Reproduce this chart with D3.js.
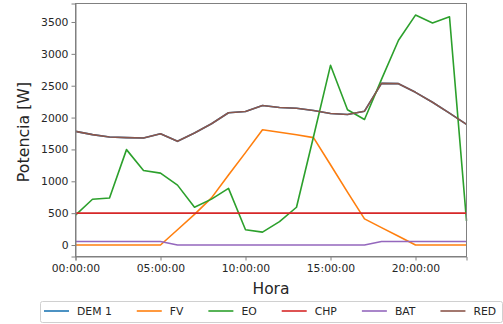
<!DOCTYPE html>
<html lang="en">
<head>
  <meta charset="UTF-8">
  <title>potencia</title>
  <script src="https://cdn.jsdelivr.net/npm/d3@7"></script>
</head>
<body>
<style>
  * {
    padding: 0;
    margin: 0;
  }

  body {
    background: #fff;
  }

  #app {
    width: 503px;
    height: 324px;
  }

  #chart text {
    font-family: "DejaVu Sans", sans-serif;
    fill: #262626;
  }

  .axis path, .axis line {
    stroke: #808080;
    stroke-width: 1;
  }
</style>

<div id="app"></div>

<script>
  // horas 0..23
  const hours = d3.range(0, 24)

  const dem1 = [1783, 1732, 1694, 1685, 1679, 1747, 1627, 1757, 1903, 2075, 2095, 2189,
    2158, 2147, 2111, 2064, 2048, 2100, 2537, 2532, 2396, 2240, 2069, 1892]
  const fv = [0, 0, 0, 0, 0, 0, 240, 480, 740, 1100, 1450, 1810,
    1770, 1730, 1685, 1260, 830, 410, 273, 137, 0, 0, 0, 0]
  const eo = [470, 718, 738, 1497, 1170, 1128, 940, 593, 720, 889, 239, 203,
    368, 593, 1700, 2820, 2122, 1970, 2600, 3214, 3608, 3484, 3582, 380]
  const chp = [500, 500, 500, 500, 500, 500, 500, 500, 500, 500, 500, 500,
    500, 500, 500, 500, 500, 500, 500, 500, 500, 500, 500, 500]
  const bat = [55, 55, 55, 55, 55, 55, 0, 0, 0, 0, 0, 0,
    0, 0, 0, 0, 0, 0, 55, 55, 55, 55, 55, 55]
  const red = [1783, 1732, 1694, 1685, 1679, 1747, 1627, 1757, 1903, 2075, 2095, 2189,
    2158, 2147, 2111, 2064, 2048, 2100, 2537, 2532, 2396, 2240, 2069, 1892]

  const seriesNames = ["DEM 1", "FV", "EO", "CHP", "BAT", "RED"]
  const seriesValues = [dem1, fv, eo, chp, bat, red]
  const colors = ["#1f77b4", "#ff7f0e", "#2ca02c", "#d62728", "#9467bd", "#8c564b"]

  const yTicks = [0, 500, 1000, 1500, 2000, 2500, 3000, 3500]

  let $width = 503, $height = 324
  const m = {left: 75.5, right: 466.5, top: 3.5, bottom: 256.5}

  const svg = d3.select("#app").append("svg").attr("id", "chart")
    .attr("width", $width).attr("height", $height)

  const day = Date.UTC(2020, 0, 1)
  const toDate = h => new Date(day + h * 3600000)

  const scaleX = d3.scaleUtc().domain([toDate(0), toDate(23)]).range([m.left, m.right])
  const scaleY = d3.scaleLinear().domain([-180, 3790]).range([m.bottom, m.top])

  /**
   * lineas
   */
  const line = d3.line()
    .x((d, i) => scaleX(toDate(hours[i])))
    .y(d => scaleY(d))

  svg.append("g").selectAll("path").data(seriesValues).enter().append("path")
    .attr("d", d => line(d))
    .attr("fill", "none")
    .attr("stroke", (d, i) => colors[i])
    .attr("stroke-width", 1.6)
    .attr("stroke-linejoin", "round")

  /**
   * ejes
   */
  const axisX = d3.axisBottom(scaleX)
    .tickValues([0, 5, 10, 15, 20].map(toDate))
    .tickFormat(d3.utcFormat("%H:%M:%S"))
    .tickSizeOuter(0).tickSize(4).tickPadding(4)

  const axisY = d3.axisLeft(scaleY).tickValues(yTicks).tickFormat(d3.format("d"))
    .tickSizeOuter(0).tickSize(4).tickPadding(3)

  svg.append("g").classed("axis", true).attr("transform", "translate(0," + m.bottom + ")")
    .call(axisX)
  svg.append("g").classed("axis", true).attr("transform", "translate(" + m.left + ",0)")
    .call(axisY)

  svg.selectAll(".axis text").attr("font-size", 10.8).style("font-family", "DejaVu Sans")

  // marco
  svg.append("rect").attr("x", m.left).attr("y", m.top)
    .attr("width", m.right - m.left).attr("height", m.bottom - m.top)
    .attr("fill", "none").attr("stroke", "#808080").attr("stroke-width", 1)

  // etiquetas
  svg.append("text").text("Hora")
    .attr("x", (m.left + m.right) / 2).attr("y", 294)
    .attr("text-anchor", "middle").attr("font-size", 15.5)

  svg.append("text").text("Potencia [W]")
    .attr("transform", "translate(29,132) rotate(-90)")
    .attr("text-anchor", "middle").attr("font-size", 15.8)

  /**
   * leyenda
   */
  const legend = svg.append("g")
  legend.append("rect").attr("x", 40.5).attr("y", 301.5).attr("width", 462).attr("height", 21)
    .attr("rx", 2).attr("fill", "#fff").attr("stroke", "#d0d0d0")

  let lx = 44
  seriesNames.forEach(function (name, i) {
    legend.append("line").attr("x1", lx).attr("x2", lx + 25)
      .attr("y1", 311).attr("y2", 311)
      .attr("stroke", colors[i]).attr("stroke-width", 1.6)
    const t = legend.append("text").text(name)
      .attr("x", lx + 33).attr("y", 315)
      .attr("font-size", 10.8)
    lx = lx + 33 + t.node().getComputedTextLength() + 25
  })
</script>
</body>
</html>
